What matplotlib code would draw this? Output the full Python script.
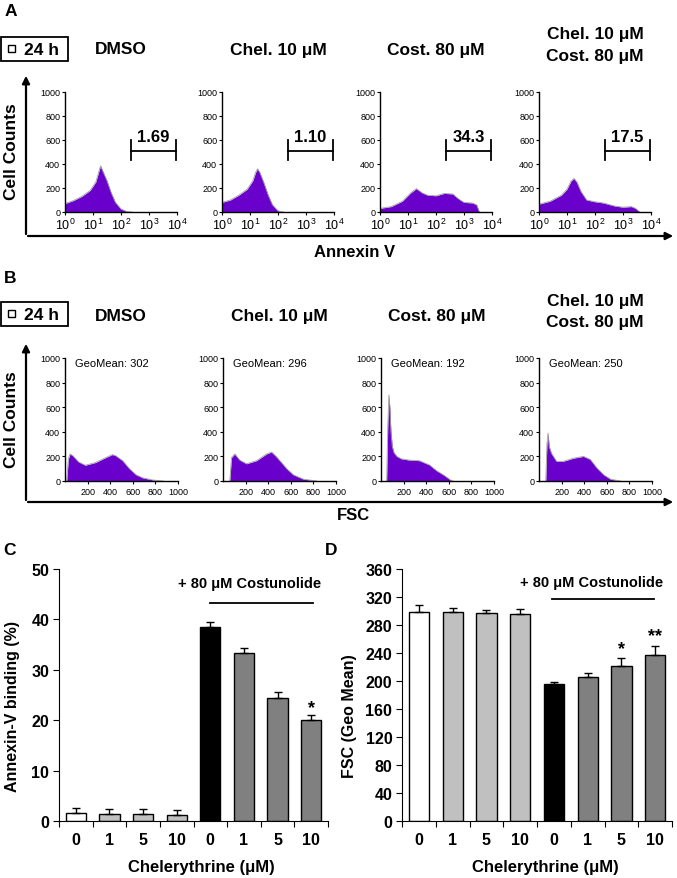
# %%
# Librerías
import numpy as np
import matplotlib
matplotlib.use('Agg')
import matplotlib.pyplot as plt
from matplotlib.patches import Rectangle

plt.rcParams['font.family'] = ['Liberation Sans', 'DejaVu Sans']
plt.rcParams['mathtext.default'] = 'regular'

# %%
# Datos
titles = ['DMSO', 'Chel. 10 μM', 'Cost. 80 μM', 'Chel. 10 μM\nCost. 80 μM']

# A: histogramas Annexin V (x en décadas log10)
annex_x = [
    [0, 0.3, 0.6, 0.9, 1.1, 1.2, 1.27, 1.35, 1.5, 1.65, 1.8, 2.0, 2.2, 2.4],
    [0, 0.3, 0.6, 0.9, 1.1, 1.2, 1.27, 1.35, 1.5, 1.65, 1.8, 2.0, 2.2],
    [0, 0.4, 0.8, 1.1, 1.3, 1.5, 1.7, 2.0, 2.3, 2.6, 2.8, 3.0, 3.3, 3.45, 3.55],
    [0, 0.4, 0.8, 1.0, 1.15, 1.25, 1.35, 1.5, 1.7, 2.0, 2.3, 2.7, 3.0, 3.3, 3.45, 3.6],
]
annex_y = [
    [70, 95, 130, 180, 250, 330, 385, 340, 260, 160, 80, 25, 5, 0],
    [80, 100, 140, 190, 260, 330, 360, 330, 240, 140, 60, 10, 0],
    [30, 45, 90, 160, 195, 160, 140, 135, 155, 150, 110, 80, 75, 60, 0],
    [65, 90, 140, 190, 260, 280, 250, 170, 100, 85, 75, 50, 40, 45, 30, 0],
]
gate_values = ['1.69', '1.10', '34.3', '17.5']
gate_range = (2.35, 3.97)

# B: histogramas FSC
fsc_x = [
    [15, 30, 45, 70, 120, 180, 270, 360, 420, 450, 510, 570, 630, 690, 780, 870],
    [60, 75, 104, 148, 208, 297, 386, 430, 475, 564, 623, 712, 830],
    [50, 60, 70, 78, 88, 100, 115, 140, 180, 250, 340, 430, 490, 560, 620, 640],
    [60, 70, 80, 90, 110, 155, 215, 304, 394, 454, 513, 573, 633, 722],
]
fsc_y = [
    [0, 180, 220, 205, 155, 128, 150, 190, 215, 205, 165, 100, 50, 25, 8, 0],
    [0, 190, 220, 170, 140, 165, 220, 235, 195, 100, 50, 15, 0],
    [0, 450, 700, 600, 400, 280, 230, 200, 180, 170, 165, 130, 85, 45, 5, 0],
    [0, 300, 390, 280, 225, 160, 160, 185, 200, 175, 105, 50, 15, 0],
]
geomeans = [302, 296, 192, 250]

# C y D: barras
chel_labels = ['0', '1', '5', '10', '0', '1', '5', '10']
annexin_mean = [1.5, 1.3, 1.4, 1.1, 38.4, 33.4, 24.5, 20.1]
annexin_err = [1.1, 1.0, 1.05, 1.1, 1.0, 1.0, 1.0, 1.0]
fsc_mean = [298, 298.5, 297.5, 295.7, 195.5, 206, 221, 237.5]
fsc_err = [11, 6, 4.5, 6.5, 3.5, 6, 12, 12.5]
bar_colors = ['white', '#c0c0c0', '#c0c0c0', '#c0c0c0', 'black', '#808080', '#808080', '#808080']

PURPLE = '#6a00cc'

# %%
W, H = 677, 879
fig = plt.figure(figsize=(W / 100, H / 100), dpi=100)

bg = fig.add_axes([0, 0, 1, 1])
bg.set_xlim(0, W)
bg.set_ylim(H, 0)
bg.axis('off')


def px_ax(x0, y0, x1, y1):
    ax = fig.add_axes([x0 / W, 1 - y1 / H, (x1 - x0) / W, (y1 - y0) / H])
    ax.patch.set_alpha(0)
    return ax


def style_hist(ax):
    for s in ['top', 'right']:
        ax.spines[s].set_visible(False)
    ax.spines['left'].set_linewidth(1)
    ax.spines['bottom'].set_linewidth(1)
    ax.set_ylim(0, 1000)
    ax.set_yticks(range(0, 1001, 200))
    ax.tick_params(axis='y', length=2.5, width=0.8, labelsize=6.5, pad=1)


def header(y_box, y_title, y_two, centers):
    bg.add_patch(Rectangle((1, y_box), 67, 24, fill=False, lw=1.3, ec='black'))
    bg.add_patch(Rectangle((8, y_box + 8), 7, 7, fill=False, lw=1, ec='black'))
    bg.text(42, y_box + 12.5, '24 h', ha='center', va='center', fontsize=12.5, fontweight='bold')
    for c, t in zip(centers, titles):
        if '\n' in t:
            l1, l2 = t.split('\n')
            bg.text(c, y_two[0], l1, ha='center', va='center', fontsize=12.5, fontweight='bold')
            bg.text(c, y_two[1], l2, ha='center', va='center', fontsize=12.5, fontweight='bold')
        else:
            bg.text(c, y_title, t, ha='center', va='center', fontsize=12.5, fontweight='bold')


def frame(y_top, y_bot):
    bg.annotate('', xy=(26, y_top), xytext=(26, y_bot + 0.8),
                arrowprops=dict(arrowstyle='-|>', color='black', lw=1.6, mutation_scale=11))
    bg.annotate('', xy=(676, y_bot), xytext=(25.2, y_bot),
                arrowprops=dict(arrowstyle='-|>', color='black', lw=1.6, mutation_scale=11))


# %%
# Panel A
bg.text(11, 12, 'A', ha='center', va='center', fontsize=12.5, fontweight='bold')
a_x0 = [65, 222, 380, 539]
header(38, 50, (35, 57), [x + 56 for x in a_x0])
frame(74, 237)
bg.text(12, 152, 'Cell Counts', rotation=90, ha='center', va='center', fontsize=12.5, fontweight='bold')
bg.text(355, 253, 'Annexin V', ha='center', va='center', fontsize=12, fontweight='bold')

for i, x0 in enumerate(a_x0):
    ax = px_ax(x0, 93, x0 + 112, 213)
    ax.fill_between(annex_x[i], annex_y[i], color=PURPLE, lw=0)
    ax.plot(annex_x[i], annex_y[i], color='#a0a0a0', lw=0.6)
    style_hist(ax)
    ax.set_xlim(0, 4)
    ax.set_xticks(range(5))
    ax.set_xticklabels(['$10^{%d}$' % k for k in range(5)], fontsize=9)
    ax.tick_params(axis='x', length=2.5, width=0.8, pad=1)
    g0, g1 = gate_range
    ax.plot([g0, g1], [510, 510], color='black', lw=1.3)
    ax.plot([g0, g0], [430, 600], color='black', lw=1.3)
    ax.plot([g1, g1], [430, 600], color='black', lw=1.3)
    ax.text((g0 + g1) / 2, 625, gate_values[i], ha='center', va='center',
            fontsize=12, fontweight='bold')

# %%
# Panel B
bg.text(10, 279, 'B', ha='center', va='center', fontsize=12.5, fontweight='bold')
b_x0 = [65, 223, 381, 539]
header(303, 317, (302, 323), [x + 56 for x in b_x0])
frame(342, 503)
bg.text(12, 420, 'Cell Counts', rotation=90, ha='center', va='center', fontsize=12.5, fontweight='bold')
bg.text(353, 516, 'FSC', ha='center', va='center', fontsize=12, fontweight='bold')

for i, x0 in enumerate(b_x0):
    ax = px_ax(x0, 359, x0 + 113, 482)
    ax.fill_between(fsc_x[i], fsc_y[i], color=PURPLE, lw=0)
    ax.plot(fsc_x[i], fsc_y[i], color='#a0a0a0', lw=0.6)
    style_hist(ax)
    ax.set_xlim(0, 1000)
    ax.set_xticks(range(200, 1001, 200))
    ax.tick_params(axis='x', length=2.5, width=0.8, labelsize=6.5, pad=1.5)
    ax.text(0.09, 0.96, 'GeoMean: %d' % geomeans[i], transform=ax.transAxes,
            ha='left', va='center', fontsize=8)


# %%
# Paneles C y D
def bar_panel(ax, vals, errs, ymax, ystep, ylabel, line_y, text_y, line_x, text_x):
    x = np.arange(len(vals))
    ax.bar(x, vals, width=0.6, color=bar_colors, edgecolor='black', lw=1)
    ax.errorbar(x, vals, yerr=[np.zeros(len(vals)), errs], fmt='none', ecolor='black',
                elinewidth=1, capsize=3, capthick=1)
    ax.set_xlim(-0.5, 7.5)
    ax.set_ylim(0, ymax)
    ax.set_yticks(np.arange(0, ymax + 1, ystep))
    for s in ['top', 'right']:
        ax.spines[s].set_visible(False)
    ax.set_xticks(np.arange(-0.5, 8, 1))
    ax.set_xticklabels([])
    ax.set_xticks(x, minor=True)
    ax.set_xticklabels(chel_labels, minor=True, fontsize=11.5, fontweight='bold')
    ax.tick_params(axis='x', which='major', direction='out', length=4)
    ax.tick_params(axis='x', which='minor', length=0, pad=8)
    ax.tick_params(axis='y', direction='out', length=4, labelsize=11.5, pad=3)
    for lab in ax.get_yticklabels():
        lab.set_fontweight('bold')
    ax.set_ylabel(ylabel, fontsize=11.5, fontweight='bold')
    ax.set_xlabel('Chelerythrine (μM)', fontsize=12, fontweight='bold')
    ax.plot(line_x, [line_y, line_y], color='black', lw=1.3, clip_on=False)
    ax.text(text_x, text_y, '+ 80 μM Costunolide', ha='center', va='center',
            fontsize=10.5, fontweight='bold')


bg.text(9, 551, 'C', ha='center', va='center', fontsize=12.5, fontweight='bold')
axc = px_ax(59, 570, 328, 822)
bar_panel(axc, annexin_mean, annexin_err, 50, 10, 'Annexin-V binding (%)',
          43.2, 47.2, [4.0, 7.05], 5.18)
axc.yaxis.set_label_coords(-0.145, 0.46)
axc.xaxis.set_label_coords(0.53, -0.15)
axc.text(7, 22.5, '*', ha='center', va='center', fontsize=13, fontweight='bold')

bg.text(331, 551, 'D', ha='center', va='center', fontsize=12.5, fontweight='bold')
axd = px_ax(402, 570, 672, 822)
bar_panel(axd, fsc_mean, fsc_err, 360, 40, 'FSC (Geo Mean)',
          317, 341, [3.94, 6.97], 5.13)
axd.yaxis.set_label_coords(-0.165, 0.42)
axd.xaxis.set_label_coords(0.53, -0.15)
axd.text(6, 246, '*', ha='center', va='center', fontsize=13, fontweight='bold')
axd.text(7, 265, '**', ha='center', va='center', fontsize=13, fontweight='bold')

fig.savefig('out.png', dpi=100)
